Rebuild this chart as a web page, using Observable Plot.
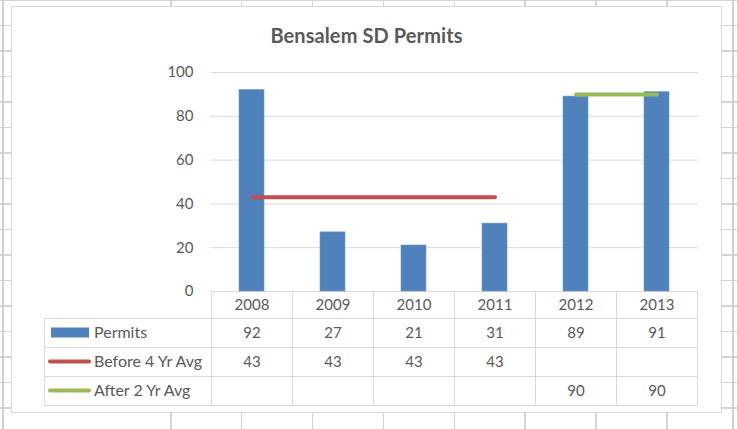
<!DOCTYPE html>
<html>
<head>
<meta charset="utf-8">
<script src="https://cdn.jsdelivr.net/npm/d3@7"></script>
<script src="https://cdn.jsdelivr.net/npm/@observablehq/plot@0.6"></script>
<style>
  html, body { margin: 0; padding: 0; }
  body { width: 738px; height: 429px; overflow: hidden; position: relative; background: #fff; font-family: Lato, "Open Sans", sans-serif; }
  .hlines { position: absolute; left: 0; top: -1.5px; width: 738px; height: 440px;
    background: repeating-linear-gradient(to bottom, #d4d4d4 0 1.5px, transparent 1.5px 25.53px); }
  .vlines { position: absolute; left: 170px; top: 0; width: 568px; height: 429px;
    background: repeating-linear-gradient(to right, #d4d4d4 0 1.5px, transparent 1.5px 70.9px); }
  .edgeL { position: absolute; left: 2px; top: 0; width: 2px; height: 429px; background: #d0d0d0; }
  .edgeR { position: absolute; left: 732px; top: 0; width: 2px; height: 429px; background: #d0d0d0; }
  #box { position: absolute; left: 11px; top: 6px; width: 709px; height: 405px; border: 1px solid #d9d9d9; background: #fff; }
  #title { position: absolute; left: 11px; width: 711px; top: 23px; text-align: center; font-weight: bold; font-size: 20px; color: #595959; line-height: 24px; letter-spacing: 0.1px; }
  #plotwrap { position: absolute; left: 0; top: 0; }
</style>
</head>
<body>
<div class="hlines"></div>
<div class="vlines"></div>
<div class="edgeL"></div>
<div class="edgeR"></div>
<div id="box"></div>
<div id="title">Bensalem SD Permits</div>
<div id="plotwrap"></div>
<script>
const years = ["2008", "2009", "2010", "2011", "2012", "2013"];
const permits = [92, 27, 21, 31, 89, 91];
const before4 = [43, 43, 43, 43, null, null];
const after2 = [null, null, null, null, 90, 90];
const seriesNames = ["Permits", "Before 4 Yr Avg", "After 2 Yr Avg"];
const yTicks = [0, 20, 40, 60, 80, 100];
const colors = ["#4F81BD", "#C0504D", "#9BBB59"];

const rows = years.map((y, i) => ({year: y, permits: permits[i], before: before4[i], after: after2[i]}));
const beforeRows = rows.filter(d => d.before != null);
const afterRows = rows.filter(d => d.after != null);

const textColor = "#595959";
const gridColor = "#d9d9d9";
const headerH = 27, rowH = 29;

const plot = Plot.plot({
  width: 738,
  height: 429,
  marginLeft: 211,
  marginRight: 40,
  marginTop: 72,
  marginBottom: 138,
  style: {fontFamily: "Lato, 'Open Sans', sans-serif", fontSize: "15px", color: textColor, background: "transparent", overflow: "visible"},
  x: {domain: years, paddingInner: 0.69, paddingOuter: 0.345, axis: null},
  y: {domain: [0, 100], axis: null},
  marks: [
    Plot.gridY(yTicks, {stroke: gridColor, strokeOpacity: 1, strokeWidth: 1}),
    Plot.axisY(yTicks, {tickSize: 0, tickPadding: 18, fill: textColor, fontSize: 15, label: null}),
    Plot.barY(rows, {x: "year", y: "permits", fill: colors[0], stroke: "#6f98cc", strokeWidth: 0.6}),
    Plot.lineY(beforeRows, {x: "year", y: "before", stroke: colors[1], strokeWidth: 4, strokeLinecap: "round"}),
    Plot.lineY(afterRows, {x: "year", y: "after", stroke: colors[2], strokeWidth: 4, strokeLinecap: "round"}),
    Plot.text(rows, {x: "year", y: 0, dy: headerH / 2, text: "year", fill: textColor, fontSize: 15}),
    Plot.text(rows, {x: "year", y: 0, dy: headerH + rowH / 2, text: d => String(d.permits), fill: textColor, fontSize: 15}),
    Plot.text(beforeRows, {x: "year", y: 0, dy: headerH + rowH * 1.5, text: d => String(d.before), fill: textColor, fontSize: 15}),
    Plot.text(afterRows, {x: "year", y: 0, dy: headerH + rowH * 2.5, text: d => String(d.after), fill: textColor, fontSize: 15})
  ]
});
document.getElementById("plotwrap").appendChild(plot);

// Data table grid and legend keys, placed with the plot's own scales
const xs = plot.scale("x");
const ys = plot.scale("y");
const bw = xs.bandwidth, step = xs.step;
const top0 = ys.apply(0);
const bounds = years.map(y => xs.apply(y) + bw / 2 - step / 2);
bounds.push(bounds[bounds.length - 1] + step);
const rowTops = [top0 + headerH, top0 + headerH + rowH, top0 + headerH + 2 * rowH, top0 + headerH + 3 * rowH];
const tableLeft = 44.5;
const svg = d3.select(plot);
const g = svg.append("g").attr("stroke", gridColor).attr("stroke-width", 1).attr("fill", "none");
bounds.forEach(b => {
  const xx = Math.round(b) + 0.5;
  g.append("line").attr("x1", xx).attr("x2", xx).attr("y1", top0).attr("y2", rowTops[3]);
});
rowTops.forEach(t => {
  const yy = Math.round(t) + 0.5;
  g.append("line").attr("x1", tableLeft).attr("x2", Math.round(bounds[bounds.length - 1]) + 0.5).attr("y1", yy).attr("y2", yy);
});
g.append("line").attr("x1", tableLeft).attr("x2", tableLeft).attr("y1", Math.round(rowTops[0]) + 0.5).attr("y2", Math.round(rowTops[3]) + 0.5);

const lg = svg.append("g");
seriesNames.forEach((name, i) => {
  const cy = rowTops[0] + rowH * (i + 0.5);
  if (i === 0) {
    lg.append("rect").attr("x", 51).attr("y", cy - 5).attr("width", 38).attr("height", 10).attr("fill", colors[0]);
  } else {
    lg.append("line").attr("x1", 50).attr("x2", 89).attr("y1", cy).attr("y2", cy)
      .attr("stroke", colors[i]).attr("stroke-width", 4).attr("stroke-linecap", "round");
  }
  lg.append("text").attr("x", 94).attr("y", cy).attr("dy", "0.35em")
    .attr("text-anchor", "start")
    .attr("fill", textColor).attr("font-size", 16).text(name);
});
</script>
</body>
</html>
